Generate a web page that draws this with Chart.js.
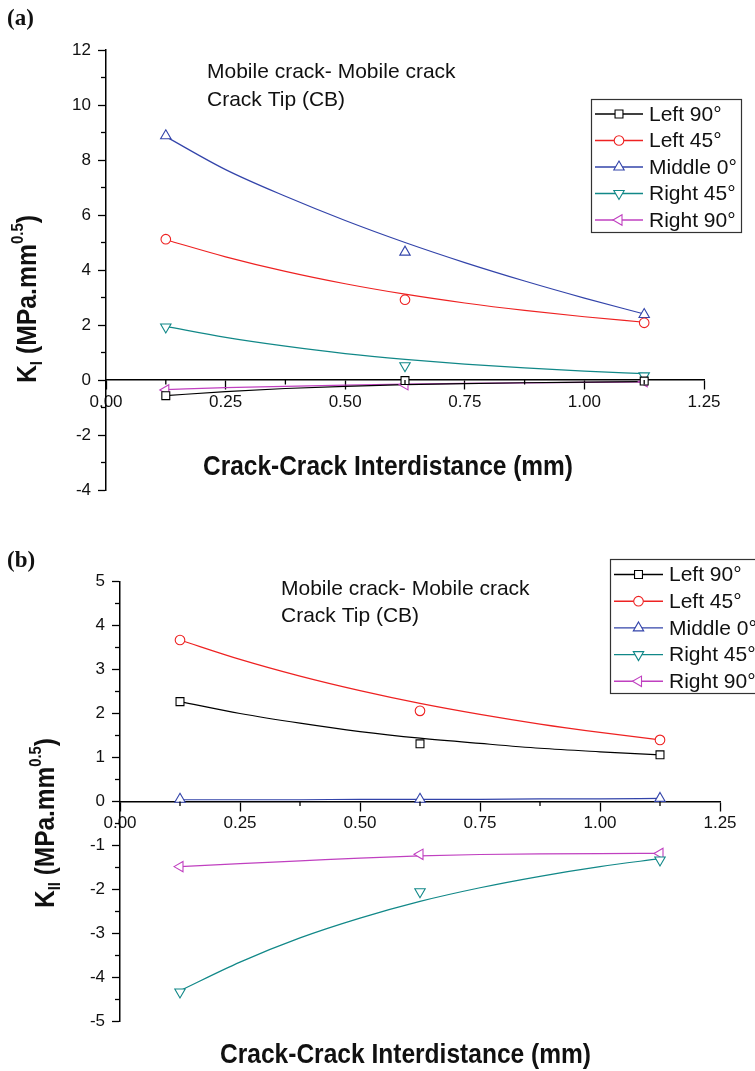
<!DOCTYPE html>
<html><head><meta charset="utf-8">
<script src="https://cdn.jsdelivr.net/npm/chart.js@4.4.1/dist/chart.umd.min.js"></script>
<style>
html,body{margin:0;padding:0;background:#fff;}
#wrap{position:relative;width:755px;height:1071px;overflow:hidden;background:#fff;}
.box{position:absolute;left:0;width:755px;}
canvas{display:block;}
</style></head><body>
<div id="wrap">
<div class="box" style="top:0;height:535px"><canvas id="ca" width="755" height="535"></canvas></div>
<div class="box" style="top:535px;height:536px"><canvas id="cb" width="755" height="536"></canvas></div>
</div>
<script>
// ---------------- data ----------------
const seriesNames = ['Left 90°', 'Left 45°', 'Middle 0°', 'Right 45°', 'Right 90°'];
const xPoints = [0.125, 0.625, 1.125];          // measured interdistances
const xFit = [0.125, 0.25, 0.375, 0.5, 0.625, 0.75, 0.875, 1.0, 1.125]; // where fitted curves were read

const xTicks = [0, 0.25, 0.5, 0.75, 1.0, 1.25];
const yTicksA = [-4, -2, 0, 2, 4, 6, 8, 10, 12];
const yTicksB = [-5, -4, -3, -2, -1, 0, 1, 2, 3, 4, 5];

// (a) K_I
const aLeft90Pts  = [-0.57, -0.02, -0.04];
const aLeft45Pts  = [5.12, 2.92, 2.08];
const aMid0Pts    = [8.88, 4.65, 2.38];
const aRight45Pts = [1.93, 0.52, 0.15];
const aRight90Pts = [-0.36, -0.17, -0.06];

const aLeft90Fit  = [-0.57, -0.42, -0.31, -0.23, -0.17, -0.13, -0.10, -0.08, -0.06];
const aLeft45Fit  = [5.10, 4.48, 3.95, 3.50, 3.12, 2.80, 2.53, 2.30, 2.10];
const aMid0Fit    = [8.85, 7.65, 6.68, 5.80, 5.00, 4.27, 3.60, 2.98, 2.40];
const aRight45Fit = [1.95, 1.55, 1.23, 0.96, 0.75, 0.58, 0.44, 0.32, 0.23];
const aRight90Fit = [-0.35, -0.28, -0.23, -0.185, -0.15, -0.123, -0.101, -0.084, -0.07];

// (b) K_II
const bLeft90Pts  = [2.27, 1.31, 1.06];
const bLeft45Pts  = [3.67, 2.06, 1.40];
const bMid0Pts    = [0.05, 0.05, 0.07];
const bRight45Pts = [-4.33, -2.05, -1.33];
const bRight90Pts = [-1.48, -1.20, -1.18];

const bLeft90Fit  = [2.27, 2.00, 1.78, 1.59, 1.44, 1.32, 1.21, 1.13, 1.06];
const bLeft45Fit  = [3.67, 3.23, 2.85, 2.52, 2.23, 1.98, 1.76, 1.57, 1.40];
const bMid0Fit    = [0.04, 0.04, 0.04, 0.05, 0.05, 0.05, 0.06, 0.06, 0.07];
const bRight45Fit = [-4.30, -3.65, -3.10, -2.65, -2.27, -1.96, -1.70, -1.48, -1.30];
const bRight90Fit = [-1.48, -1.41, -1.35, -1.285, -1.235, -1.205, -1.19, -1.183, -1.18];

// ---------------- styles ----------------
const STY = [
  {color: '#000000', ps: 'rect',     r: 5.6, rot: 0},
  {color: '#ee2222', ps: 'circle',   r: 4.8, rot: 0},
  {color: '#3344aa', ps: 'triangle', r: 6.0, rot: 0},
  {color: '#118888', ps: 'triangle', r: 6.0, rot: 180},
  {color: '#c040c0', ps: 'triangle', r: 6.0, rot: 270}
];
const FONT = '"Liberation Sans", Arial, Helvetica, sans-serif';

function buildDatasets(ptsList, fitList) {
  const ds = [];
  ptsList.forEach((pts, i) => {
    const s = STY[i];
    ds.push({
      label: seriesNames[i] + ' pts',
      data: xPoints.map((x, k) => ({x: x, y: pts[k]})),
      showLine: false,
      pointStyle: s.ps, pointRadius: s.r, pointRotation: s.rot,
      borderColor: s.color, backgroundColor: '#ffffff', pointBorderWidth: 1.1,
      order: 0
    });
  });
  fitList.forEach((fit, i) => {
    const s = STY[i];
    ds.push({
      label: seriesNames[i],
      data: xFit.map((x, k) => ({x: x, y: fit[k]})),
      showLine: true, pointRadius: 0, borderColor: s.color, borderWidth: 1.2,
      cubicInterpolationMode: 'monotone', fill: false,
      order: 1
    });
  });
  return ds;
}

function drawMarker(ctx, s, x, y) {
  ctx.save();
  ctx.strokeStyle = s.color; ctx.fillStyle = '#fff'; ctx.lineWidth = 1.1;
  ctx.beginPath();
  const r = s.r;
  if (s.ps === 'rect') { const h = r * Math.SQRT1_2; ctx.rect(x - h, y - h, 2 * h, 2 * h); }
  else if (s.ps === 'circle') { ctx.arc(x, y, r, 0, Math.PI * 2); }
  else {
    let a = s.rot * Math.PI / 180;
    ctx.moveTo(x + Math.sin(a) * r, y - Math.cos(a) * r);
    for (let k = 1; k < 3; k++) { a += 2 * Math.PI / 3; ctx.lineTo(x + Math.sin(a) * r, y - Math.cos(a) * r); }
    ctx.closePath();
  }
  ctx.fill(); ctx.stroke(); ctx.restore();
}

function decor(cfg) {
  return {
    id: 'decor',
    afterDraw(chart) {
      const ctx = chart.ctx;
      const xs = chart.scales.x, ys = chart.scales.y;
      const ca = chart.chartArea;
      ctx.save();
      // minor ticks
      ctx.strokeStyle = '#000'; ctx.lineWidth = 1.3;
      const y0 = ys.getPixelForValue(0);
      for (let v = ys.min + cfg.yMinorStep; v < ys.max; v += cfg.yMinorStep * 2) {
        const py = ys.getPixelForValue(v);
        ctx.beginPath(); ctx.moveTo(ca.left - 5, py); ctx.lineTo(ca.left, py); ctx.stroke();
      }
      for (let v = 0.125; v < 1.25; v += 0.25) {
        const px = xs.getPixelForValue(v);
        ctx.beginPath(); ctx.moveTo(px, y0); ctx.lineTo(px, y0 + 4.5); ctx.stroke();
      }
      ctx.fillStyle = '#111';
      // panel label
      ctx.font = 'bold 23px "Liberation Serif", "Times New Roman", serif';
      ctx.textBaseline = 'alphabetic'; ctx.textAlign = 'left';
      ctx.fillText(cfg.panel, 7, cfg.panelY);
      // annotation
      ctx.font = '21px ' + FONT;
      cfg.note.forEach((t, i) => ctx.fillText(t, cfg.noteX, cfg.noteY + i * cfg.noteDy));
      // x title (slightly condensed bold)
      ctx.font = 'bold 27px ' + FONT;
      const xt = 'Crack-Crack Interdistance (mm)';
      const w = ctx.measureText(xt).width;
      ctx.save();
      ctx.translate(cfg.xt.x0, cfg.xt.base);
      ctx.scale((cfg.xt.x1 - cfg.xt.x0) / w, 1);
      ctx.fillText(xt, 0, 0);
      ctx.restore();
      // y title with subscript / superscript
      const segs = [
        {t: 'K', f: 28, dy: 0},
        {t: cfg.sub, f: 17, dy: 6},
        {t: ' (MPa.mm', f: 28, dy: 0},
        {t: '0.5', f: 17, dy: -13},
        {t: ')', f: 28, dy: 0}
      ];
      let tot = 0;
      segs.forEach(s => { ctx.font = 'bold ' + s.f + 'px ' + FONT; s.w = ctx.measureText(s.t).width; tot += s.w; });
      ctx.save();
      ctx.translate(cfg.yt.bx, cfg.yt.bottom);
      ctx.rotate(-Math.PI / 2);
      ctx.scale(cfg.yt.len / tot, 1);
      let cx = 0;
      segs.forEach(s => { ctx.font = 'bold ' + s.f + 'px ' + FONT; ctx.fillText(s.t, cx, s.dy); cx += s.w; });
      ctx.restore();
      // legend
      const L = cfg.leg;
      ctx.fillStyle = '#fff';
      ctx.fillRect(L.x0, L.y0, L.x1 - L.x0, L.y1 - L.y0);
      ctx.strokeStyle = '#333'; ctx.lineWidth = 1.2;
      ctx.strokeRect(L.x0 + 0.5, L.y0 + 0.5, L.x1 - L.x0, L.y1 - L.y0);
      ctx.font = '21px ' + FONT; ctx.textBaseline = 'middle';
      seriesNames.forEach((name, i) => {
        const yy = L.rowY + i * L.rowDy;
        const s = STY[i];
        ctx.strokeStyle = s.color; ctx.lineWidth = 1.4;
        ctx.beginPath(); ctx.moveTo(L.lx0, yy); ctx.lineTo(L.lx1, yy); ctx.stroke();
        drawMarker(ctx, s, (L.lx0 + L.lx1) / 2, yy);
        ctx.fillStyle = '#111';
        ctx.fillText(name, L.tx, yy + 1);
      });
      ctx.restore();
    }
  };
}

function makeChart(id, ds, yMin, yMax, yStep, yTicks, padding, yWidth, cfg) {
  return new Chart(document.getElementById(id), {
    type: 'scatter',
    data: {datasets: ds},
    options: {
      responsive: false, animation: false, devicePixelRatio: 1,
      layout: {padding: padding},
      plugins: {legend: {display: false}, tooltip: {enabled: false}},
      scales: {
        x: {
          type: 'linear', min: 0, max: 1.25,
          position: {y: 0},
          afterBuildTicks: (sc) => { sc.ticks = xTicks.map(v => ({value: v})); },
          ticks: {callback: (v) => Number(v).toFixed(2), color: '#111', font: {size: 17, family: FONT}, padding: 3, maxRotation: 0, autoSkip: false},
          grid: {drawOnChartArea: false, drawTicks: true, tickLength: 9, tickColor: '#000', tickWidth: 1.3},
          border: {display: true, color: '#000', width: 1.5}
        },
        y: {
          type: 'linear', min: yMin, max: yMax, position: 'left',
          afterBuildTicks: (sc) => { sc.ticks = yTicks.map(v => ({value: v})); },
          afterFit: (sc) => { sc.width = yWidth; },
          ticks: {callback: (v) => String(v), color: '#111', font: {size: 17, family: FONT}, padding: 7},
          grid: {drawOnChartArea: false, drawTicks: true, tickLength: 8, tickColor: '#000', tickWidth: 1.3},
          border: {display: true, color: '#000', width: 1.5}
        }
      }
    },
    plugins: [decor(cfg)]
  });
}

makeChart('ca',
  buildDatasets([aLeft90Pts, aLeft45Pts, aMid0Pts, aRight45Pts, aRight90Pts],
                [aLeft90Fit, aLeft45Fit, aMid0Fit, aRight45Fit, aRight90Fit]),
  -4, 12, 2, yTicksA, {left: 0, right: 51, top: 50, bottom: 45}, 106,
  {
    panel: '(a)', panelY: 25,
    note: ['Mobile crack- Mobile crack', 'Crack Tip (CB)'], noteX: 207, noteY: 78, noteDy: 28,
    xt: {x0: 203, x1: 573, base: 475},
    yt: {bx: 36, bottom: 383, len: 168},
    sub: 'I', yMinorStep: 1,
    leg: {x0: 591, y0: 99, x1: 741, y1: 232, rowY: 114, rowDy: 26.5, lx0: 595, lx1: 643, tx: 649}
  });

makeChart('cb',
  buildDatasets([bLeft90Pts, bLeft45Pts, bMid0Pts, bRight45Pts, bRight90Pts],
                [bLeft90Fit, bLeft45Fit, bMid0Fit, bRight45Fit, bRight90Fit]),
  -5, 5, 1, yTicksB, {left: 0, right: 35, top: 46.5, bottom: 49.5}, 120,
  {
    panel: '(b)', panelY: 32,
    note: ['Mobile crack- Mobile crack', 'Crack Tip (CB)'], noteX: 281, noteY: 60, noteDy: 27,
    xt: {x0: 220, x1: 591, base: 528},
    yt: {bx: 54, bottom: 373, len: 170},
    sub: 'II', yMinorStep: 0.5,
    leg: {x0: 610, y0: 24, x1: 770, y1: 158, rowY: 39.5, rowDy: 26.7, lx0: 614, lx1: 663, tx: 669}
  });
</script>
</body></html>
